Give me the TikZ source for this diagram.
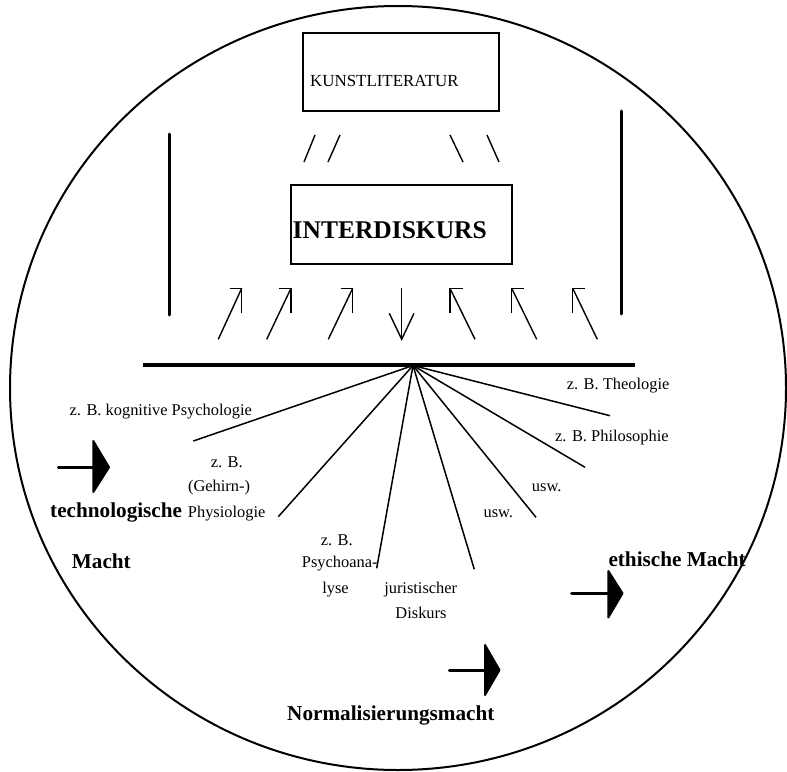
\documentclass[tikz,border=0pt]{standalone}
\usepackage{fontspec}
\setmainfont{Liberation Serif}
\begin{document}
\begin{tikzpicture}[x=1pt,y=-1pt,
  thin line/.style={line width=1.4pt},
  lbl/.style={inner sep=0pt,font=\fontsize{16.4}{18}\selectfont},
  blbl/.style={inner sep=0pt,font=\fontsize{21.2}{24}\selectfont\bfseries},
  boxnode/.style={draw,line width=1.4pt,inner sep=0pt},
  fan/.style={line width=1.5pt},
  bar/.style={line width=3pt,line cap=round},
  shaft/.style={line width=3pt,line cap=round},
  bighead/.style={fill=black,draw=black,line width=2pt,line join=round},
  upar/.style={line width=1.4pt}]
\useasboundingbox (0,0) rectangle (787,771);
% outer circle
\draw[line width=2pt] (398,388) ellipse [x radius=388, y radius=382];
% boxes
\node[boxnode,minimum width=196pt,minimum height=78pt] (kbox) at (401,72) {};
\node[inner sep=0pt,anchor=base west,font=\fontsize{16.9}{18}\selectfont] (ktext) at (310,86) {KUNSTLITERATUR};
\node[boxnode,minimum width=221pt,minimum height=79pt] (ibox) at (401.5,224.5) {};
\node[inner sep=0pt,anchor=base west,font=\fontsize{25.5}{28}\selectfont\bfseries] (itext) at (292.5,238) {INTERDISKURS};
% slashes between boxes
\coordinate (s1a) at (304,162); \coordinate (s1b) at (315,135);
\coordinate (s2a) at (328,162); \coordinate (s2b) at (340,135);
\coordinate (s3a) at (450,135); \coordinate (s3b) at (463,162);
\coordinate (s4a) at (487,135); \coordinate (s4b) at (499,162);
\draw[thin line] (s1a) -- (s1b);
\draw[thin line] (s2a) -- (s2b);
\draw[thin line] (s3a) -- (s3b);
\draw[thin line] (s4a) -- (s4b);
% vertical bars
\coordinate (lbt) at (169,134); \coordinate (lbb) at (169,315);
\coordinate (rbt) at (621,111); \coordinate (rbb) at (621,314);
\draw[bar] (lbt) -- (lbb);
\draw[bar] (rbt) -- (rbb);
% horizontal base line
\coordinate (hl) at (143,364.5); \coordinate (hr) at (635,364.5);
\draw[line width=4pt] (hl) -- (hr);
% up arrows (left-leaning)
\foreach \tx/\hx in {218.3/241.7, 266.7/291, 328.3/352.7}{
  \draw[upar] (\tx,339.3) -- (\hx,288.3);
  \draw[upar] (\hx-12,288.3) -- (\hx,288.3) -- (\hx,313.3);
}
% down arrow
\coordinate (dtop) at (401.7,288.3); \coordinate (dtip) at (401.7,339.3);
\draw[upar] (dtop) -- (dtip);
\draw[upar] (389.3,313.3) -- (dtip) -- (414,313.3);
% up arrows (right-leaning)
\foreach \tx/\hx in {475/450, 536.7/511.7, 597.3/572.7}{
  \draw[upar] (\tx,339.3) -- (\hx,288.3);
  \draw[upar] (\hx+12.5,288.3) -- (\hx,288.3) -- (\hx,313.3);
}
% fan
\coordinate (apex) at (413,365.5);
\coordinate (fa) at (193.3,441);
\coordinate (fb) at (278.3,516.7);
\coordinate (fc) at (376.7,568.3);
\coordinate (fd) at (474.3,569.3);
\coordinate (fe) at (536,517.3);
\coordinate (ff) at (585,467.3);
\coordinate (fg) at (610,415.7);
\foreach \e in {fa,fb,fc,fd,fe,ff,fg}{\draw[fan] (apex) -- (\e);}
% labels
\node[lbl,anchor=base] (kog) at (160.8,415) {z. B. kognitive Psychologie};
\node[lbl,anchor=base] (ph1) at (226.7,467.3) {z. B.};
\node[lbl,anchor=base] (ph2) at (219,491.7) {(Gehirn-)};
\node[lbl,anchor=base] (ph3) at (226.7,517.3) {Physiologie};
\node[blbl,anchor=base west] (tech) at (50,517.3) {technologische};
\node[blbl,anchor=base west] (macht) at (71.7,568.3) {Macht};
\node[lbl,anchor=base] (ps1) at (336.7,545) {z. B.};
\node[lbl,anchor=base west] (ps2) at (301.7,567.3) {Psychoana-};
\node[lbl,anchor=base] (ps3) at (335.5,593.3) {lyse};
\node[lbl,anchor=base] (ju1) at (420.7,593.3) {juristischer};
\node[lbl,anchor=base] (ju2) at (421,618.3) {Diskurs};
\node[lbl,anchor=base] (usw1) at (546.7,491.7) {usw.};
\node[lbl,anchor=base] (usw2) at (498.3,517.3) {usw.};
\node[lbl,anchor=base west] (phil) at (555,441) {z. B. Philosophie};
\node[lbl,anchor=base west] (theo) at (566.7,389.3) {z. B. Theologie};
\node[blbl,anchor=base west] (eth) at (608.3,566) {ethische Macht};
\node[blbl,anchor=base west] (norm) at (287,720) {Normalisierungsmacht};
% big arrows
\coordinate (t1) at (58.3,467.3); \coordinate (t2) at (93.3,467.3);
\draw[shaft] (t1) -- (t2);
\draw[bighead] (93.3,441) -- (109,467.3) -- (93.3,492) -- cycle;
\coordinate (e1) at (571.7,593.3); \coordinate (e2) at (608.3,593.3);
\draw[shaft] (e1) -- (e2);
\draw[bighead] (608.3,571) -- (622.5,593.3) -- (608.3,617.5) -- cycle;
\coordinate (n1) at (449.3,670); \coordinate (n2) at (485,670);
\draw[shaft] (n1) -- (n2);
\draw[bighead] (485,645) -- (499.5,670) -- (485,695) -- cycle;
\end{tikzpicture}
\end{document}
